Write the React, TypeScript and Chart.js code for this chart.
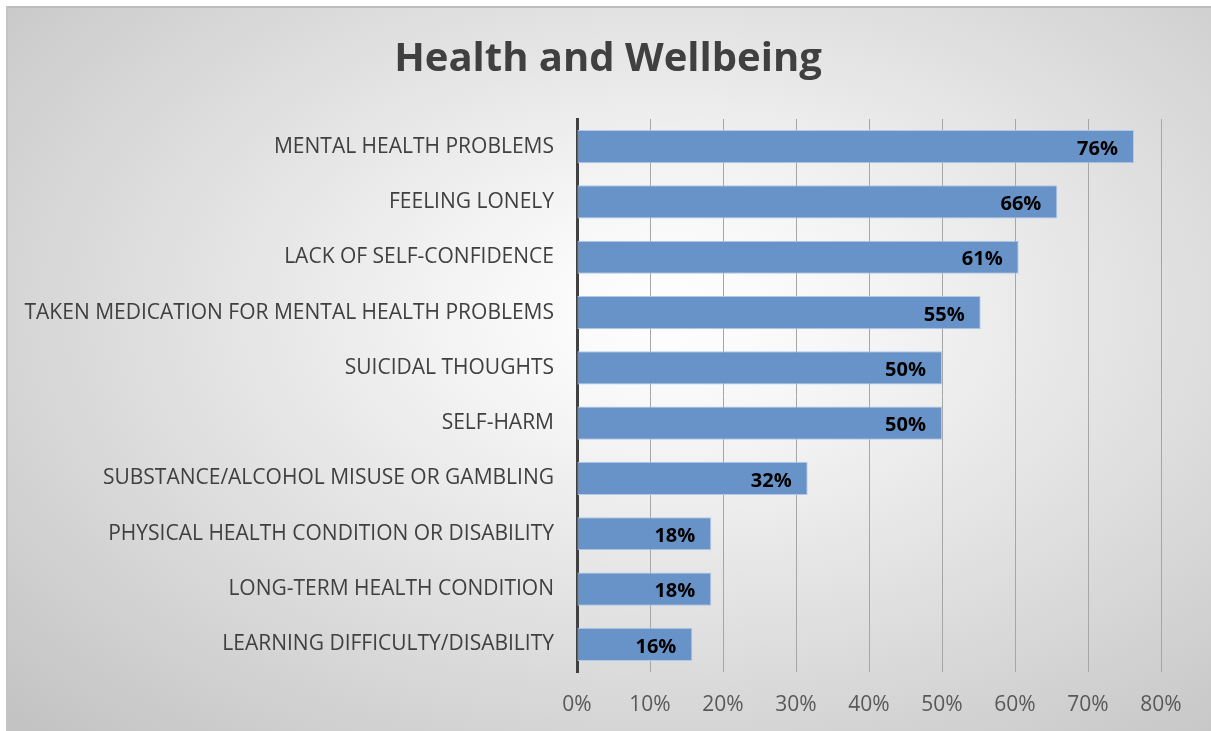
import React, { useEffect, useRef } from "react";
import { Chart, registerables } from "chart.js";

Chart.register(...registerables);

const categories = [
  "MENTAL HEALTH PROBLEMS",
  "FEELING LONELY",
  "LACK OF SELF-CONFIDENCE",
  "TAKEN MEDICATION FOR MENTAL HEALTH PROBLEMS",
  "SUICIDAL THOUGHTS",
  "SELF-HARM",
  "SUBSTANCE/ALCOHOL MISUSE OR GAMBLING",
  "PHYSICAL HEALTH CONDITION OR DISABILITY",
  "LONG-TERM HEALTH CONDITION",
  "LEARNING DIFFICULTY/DISABILITY",
];

// percentages (labels show rounded values)
const values = [76.3, 65.8, 60.5, 55.3, 50.0, 50.0, 31.6, 18.4, 18.4, 15.8];

const xTicks = [0, 10, 20, 30, 40, 50, 60, 70, 80];

const titleText = "Health and Wellbeing";

const FONT = "'Open Sans', 'Liberation Sans', sans-serif";

const overlayPlugin = {
  id: "overlay",
  afterDatasetsDraw(chart: any) {
    const ctx = chart.ctx;
    const meta = chart.getDatasetMeta(0);
    ctx.save();
    ctx.font = `bold 20px ${FONT}`;
    ctx.fillStyle = "#000000";
    ctx.textAlign = "right";
    ctx.textBaseline = "middle";
    meta.data.forEach((bar: any, i: number) => {
      const label = Math.round(values[i]) + "%";
      ctx.fillText(label, bar.x - 16, bar.y + 2.5);
    });
    ctx.restore();
  },
  afterDraw(chart: any) {
    const ctx = chart.ctx;
    ctx.save();
    ctx.font = `bold 40px ${FONT}`;
    ctx.fillStyle = "#404040";
    ctx.textAlign = "center";
    ctx.textBaseline = "middle";
    ctx.fillText(titleText, 600, 52);
    ctx.restore();
  },
};

function App() {
  const ref = useRef<HTMLCanvasElement | null>(null);

  useEffect(() => {
    if (!ref.current) return;
    const chart = new Chart(ref.current, {
      type: "bar",
      data: {
        labels: categories,
        datasets: [
          {
            data: values,
            backgroundColor: "#6893c8",
            borderColor: "#b4c9e8",
            borderWidth: 1,
            borderSkipped: false,
            barPercentage: 0.6,
            categoryPercentage: 1,
          },
        ],
      },
      options: {
        indexAxis: "y",
        animation: false,
        responsive: false,
        maintainAspectRatio: false,
        layout: { padding: { top: 111, right: 50, left: 0, bottom: 0 } },
        plugins: {
          legend: { display: false },
          title: { display: false },
          tooltip: { enabled: false },
        },
        scales: {
          x: {
            min: 0,
            max: 80,
            afterBuildTicks(scale: any) {
              scale.ticks = xTicks.map((v) => ({ value: v }));
            },
            afterFit(scale: any) {
              scale.height = 59;
            },
            ticks: {
              callback: (v: any) => v + "%",
              color: "#595959",
              font: { family: FONT, size: 21 },
              padding: 20,
              maxRotation: 0,
            },
            grid: {
              color: "#a6a6a6",
              lineWidth: 1,
              drawTicks: false,
            },
            border: { display: false },
          },
          y: {
            afterFit(scale: any) {
              scale.width = 569;
            },
            ticks: {
              color: "#404040",
              font: { family: FONT, size: 21 },
              padding: 23,
              autoSkip: false,
            },
            grid: { display: false, drawTicks: false },
            border: { display: true, color: "#404040", width: 3 },
          },
        },
      },
      plugins: [overlayPlugin],
    });
    return () => chart.destroy();
  }, []);

  return (
    <div
      style={{
        position: "fixed",
        left: 6,
        top: 6,
        width: 1205,
        height: 725,
        borderTop: "2px solid #bdbdbd",
        borderLeft: "2px solid #c4c4c4",
        boxSizing: "border-box",
        background:
          "radial-gradient(ellipse farthest-corner at 55% 42%, #ffffff 0%, #f7f7f7 18%, #c2c2c2 100%)",
      }}
    >
      <canvas
        ref={ref}
        width={1203}
        height={723}
        style={{ display: "block", width: 1203, height: 723 }}
      />
    </div>
  );
}

export default App;
